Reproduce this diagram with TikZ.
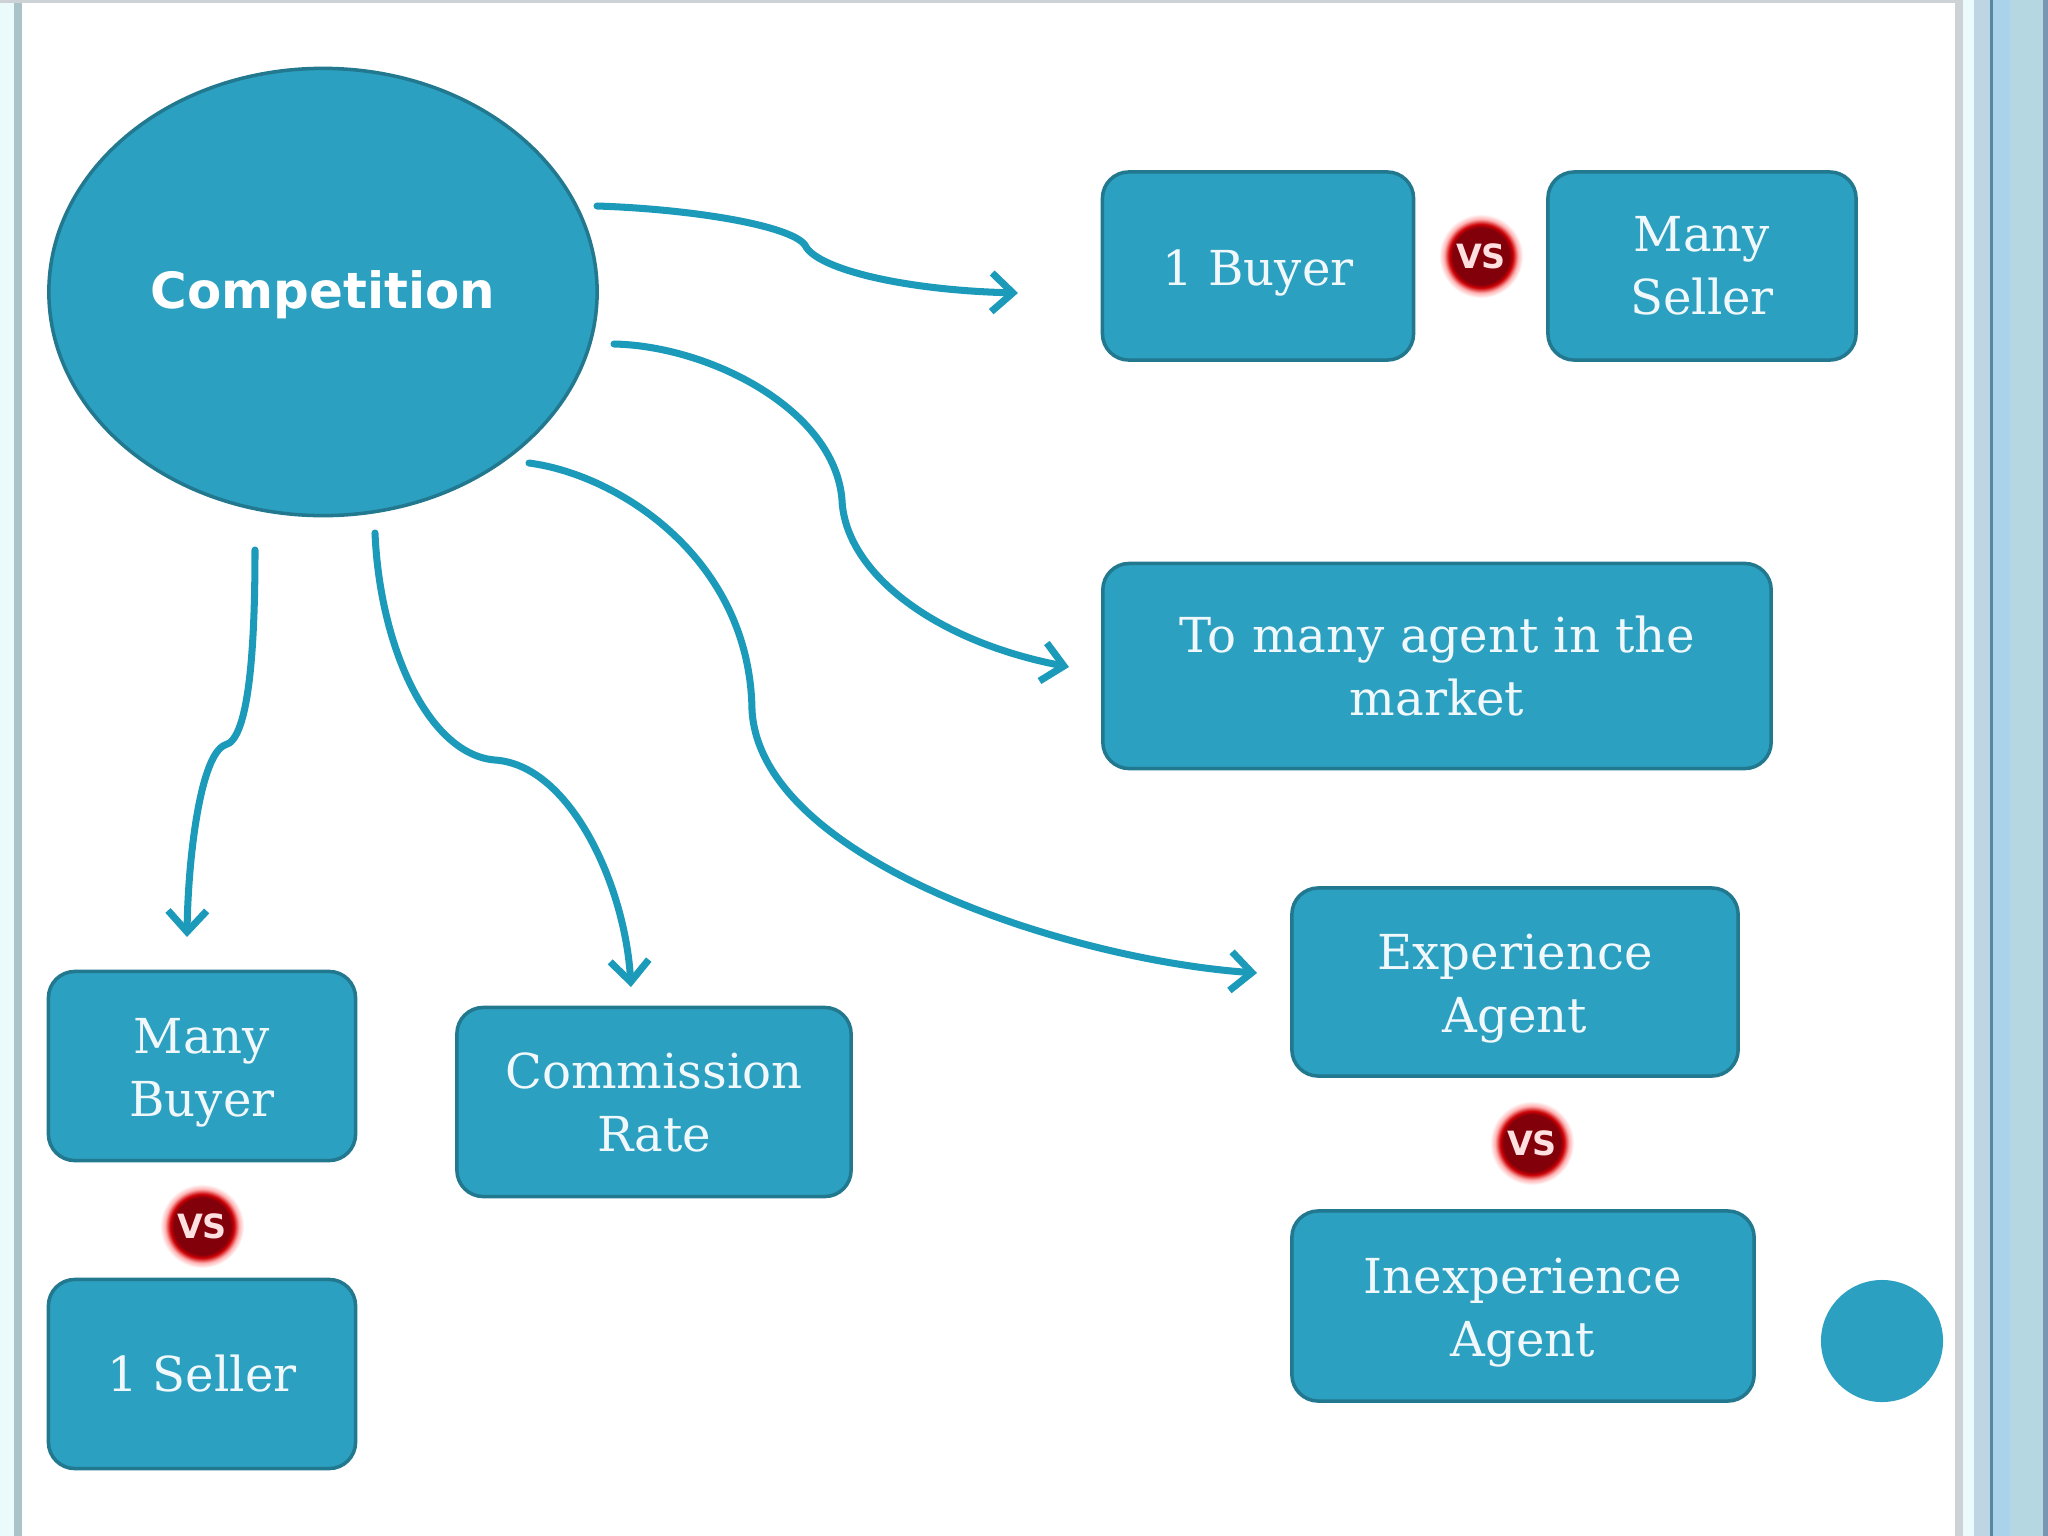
\documentclass[tikz,border=0pt]{standalone}
\usepackage{fontspec}
\usepackage{tikz}
\usetikzlibrary{arrows.meta,shapes.geometric}
\newfontfamily\labelsans{DejaVu Sans}
\newfontfamily\labelserif{DejaVu Serif}
\newcommand\dropped{\rule{0pt}{14pt}}
\definecolor{panelT}{RGB}{44,160,192}
\definecolor{edgeT}{RGB}{34,120,142}
\definecolor{arrowT}{RGB}{28,154,186}
\definecolor{vsred}{RGB}{130,0,10}
\definecolor{frameA}{RGB}{235,250,250}
\definecolor{frameB}{RGB}{170,195,200}
\definecolor{frameC}{RGB}{205,210,215}
\definecolor{frameD}{RGB}{190,213,228}
\definecolor{frameE}{RGB}{90,135,160}
\definecolor{frameF}{RGB}{170,210,235}
\definecolor{frameG}{RGB}{180,215,225}
\definecolor{frameH}{RGB}{120,150,180}
\pgfdeclareradialshading{vshalo}{\pgfpoint{0bp}{0bp}}{color(0bp)=(vsred); color(17bp)=(vsred); color(19bp)=(red!60!vsred); color(22bp)=(red!30!white); color(25bp)=(white); color(50bp)=(white)}
\tikzset{panel/.style={draw=edgeT,line width=1pt,fill=panelT,rounded corners=7.5pt,text=white!93!panelT,align=center,font=\labelserif\fontsize{13.7}{17.9}\selectfont,inner sep=0pt},
 curve/.style={draw=arrowT,line width=2pt,line cap=round,-{Straight Barb[length=6pt,width=11pt,line width=2pt]}},
 vsmark/.style={circle,shading=vshalo,minimum size=.84cm,inner sep=0pt,text=red!12!white,font=\labelsans\bfseries\fontsize{9.5}{11}\selectfont}}

\begin{document}
\begin{tikzpicture}[x=.01cm,y=-.01cm]
\useasboundingbox (0,0) rectangle (2048,1536);
% window frame
\fill[white] (0,0) rectangle (2048,1536);
\fill[frameA] (0,0) rectangle (14,1536);
\fill[frameB] (14,0) rectangle (22,1536);
\fill[frameC] (0,0) rectangle (2048,3);
\fill[frameC] (1955,0) rectangle (1963,1536);
\fill[frameA] (1963,0) rectangle (1974,1536);
\fill[frameD] (1974,0) rectangle (1990,1536);
\fill[frameE] (1990,0) rectangle (1993,1536);
\fill[frameF] (1993,0) rectangle (2010,1536);
\fill[frameG] (2010,0) rectangle (2043,1536);
\fill[frameH] (2043,0) rectangle (2048,1536);
% main ellipse
\node[ellipse,draw=edgeT,line width=1pt,fill=panelT,minimum width=5.48cm,minimum height=4.47cm,inner sep=0pt,text=white,font=\labelsans\bfseries\fontsize{14.2}{18}\selectfont] (competition) at (323,292) {\rule{0pt}{12.5pt}Competition};
% boxes
\node[panel,minimum width=3.11cm,minimum height=1.88cm] (oneBuyer) at (1258,266) {\dropped 1 Buyer};
\node[panel,minimum width=3.08cm,minimum height=1.88cm] (manySeller) at (1702,266) {Many\\Seller};
\node[panel,minimum width=6.68cm,minimum height=2.05cm] (manyAgent) at (1437,666) {To many agent in the\\market};
\node[panel,minimum width=4.46cm,minimum height=1.88cm] (expAgent) at (1515,982) {\dropped Experience\\Agent};
\node[panel,minimum width=4.62cm,minimum height=1.90cm] (inexpAgent) at (1523,1306) {\dropped Inexperience\\Agent};
\node[panel,minimum width=3.07cm,minimum height=1.89cm] (manyBuyer) at (202,1066) {\dropped Many\\Buyer};
\node[panel,minimum width=3.07cm,minimum height=1.89cm] (oneSeller) at (202,1374) {1 Seller};
\node[panel,minimum width=3.94cm,minimum height=1.89cm] (commission) at (654,1102) {Commission\\Rate};
\node[circle,fill=panelT,minimum size=1.22cm,inner sep=0pt] (dot) at (1882,1341) {};
% vs marks
\node[vsmark] (vsA) at (1481,256) {VS};
\node[vsmark] (vsB) at (1532,1143) {VS};
\node[vsmark] (vsC) at (202,1226) {VS};
% arrow ends
\coordinate (startA) at (597,206);
\coordinate (endA) at (1018,293);
\coordinate (startB) at (614,344);
\coordinate (endB) at (1069,667);
\coordinate (startC) at (529,463);
\coordinate (endC) at (1257,973);
\coordinate (startD) at (255,550);
\coordinate (endD) at (187,937);
\coordinate (startE) at (375,533);
\coordinate (endE) at (631,987);
\draw[curve] (startA) .. controls (690,209) and (790,225) .. (805,245) .. controls (815,268) and (900,290) .. (endA);
\draw[curve] (startB) .. controls (710,346) and (835,410) .. (842,500) .. controls (845,570) and (930,640) .. (endB);
\draw[curve] (startC) .. controls (620,475) and (750,560) .. (752,710) .. controls (760,860) and (1070,960) .. (endC);
\draw[curve] (startD) .. controls (255,640) and (250,740) .. (225,745) .. controls (200,755) and (188,860) .. (endD);
\draw[curve] (startE) .. controls (380,650) and (430,755) .. (495,760) .. controls (570,765) and (625,885) .. (endE);
\end{tikzpicture}
\end{document}
